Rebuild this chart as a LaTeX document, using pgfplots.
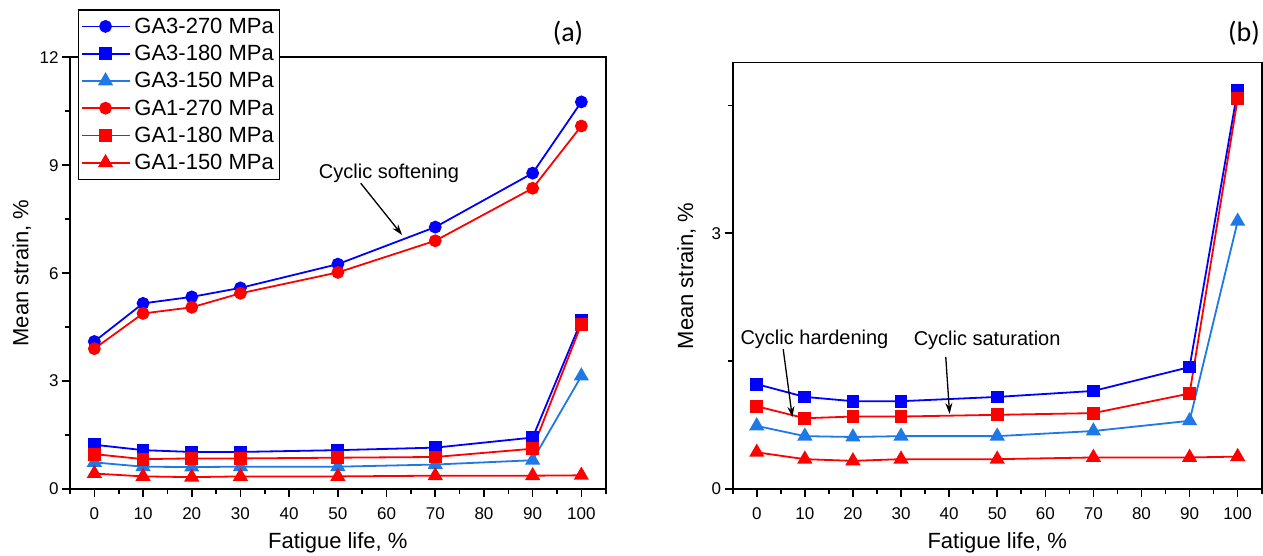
\documentclass[border=0pt]{standalone}
\usepackage{pgfplots}
\pgfplotsset{compat=1.18}
\usepackage{fontspec}
\setmainfont{Liberation Sans}
\newfontfamily\calib{Carlito}
\usetikzlibrary{arrows.meta}
\definecolor{cblue}{RGB}{0,0,255}
\definecolor{clblue}{RGB}{30,120,230}
\definecolor{cred}{RGB}{255,0,0}

\pgfplotstableread{
x   a3h   a1h   a3m   a1m   a3l   a1l
0   4.10  3.90  1.23  0.97  0.74  0.43
10  5.16  4.88  1.08  0.83  0.62  0.35
20  5.34  5.05  1.03  0.85  0.61  0.33
30  5.59  5.44  1.03  0.85  0.62  0.35
50  6.25  6.02  1.08  0.87  0.62  0.35
70  7.28  6.90  1.15  0.89  0.68  0.37
90  8.78  8.36  1.43  1.12  0.80  0.37
100 10.76 10.09 4.68  4.58  3.14  0.38
}\datatab

\pgfplotsset{
  myaxis/.style={
    scale only axis,
    anchor=south west,
    axis line style={line width=1.6pt},
    every tick/.style={line width=1.6pt, black},
    tick align=outside,
    tick pos=left,
    major tick length=8pt,
    minor tick length=5pt,
    xmin=-5, xmax=105,
    xtick={0,10,...,100},
    minor xtick={-5,5,...,105},
    tick label style={font=\fontsize{17}{20}\selectfont},
    xticklabel style={yshift=-7pt},
    label style={font=\fontsize{22}{26}\selectfont},
    /pgf/number format/assume math mode=true,
    xlabel={Fatigue life, \%},
    ylabel={Mean strain, \%},
    clip=false,
  },
  s1/.style={color=cblue, line width=1.8pt, mark=*, mark size=5.5pt},
  s2/.style={color=cblue, line width=1.8pt, mark=square*, mark size=5.5pt},
  s3/.style={color=clblue, line width=1.8pt, mark=triangle*, mark size=7pt},
  s4/.style={color=cred, line width=1.8pt, mark=*, mark size=5.5pt},
  s5/.style={color=cred, line width=1.8pt, mark=square*, mark size=5.5pt},
  s6/.style={color=cred, line width=1.8pt, mark=triangle*, mark size=7pt},
}

\begin{document}
\begin{tikzpicture}
\path[use as bounding box] (0pt,0pt) rectangle (1263pt,555pt);

\begin{axis}[myaxis,
  at={(70pt,66pt)}, width=535.7pt, height=431.7pt,
  ymin=0, ymax=12, ytick={0,3,...,12}, minor ytick={1.5,4.5,...,10.5},
  xlabel style={at={(axis description cs:0.5,-0.125)}, anchor=center},
  ylabel style={at={(axis description cs:-0.09,0.5)}, anchor=center},
  legend style={at={(axis description cs:0.015,1.111)}, anchor=north west,
    draw=black, line width=1.2pt, fill=white,
    font=\fontsize{22}{26}\selectfont, row sep=8.4pt,
    inner xsep=2pt, inner ysep=7pt,
    nodes={inner xsep=4pt, inner ysep=1pt}},
  every legend image post/.style={line width=1.8pt},
  legend cell align=left,
  legend image code/.code={\draw[line width=1.8pt, mark repeat=2,mark phase=2] plot coordinates {(0pt,0pt) (24pt,0pt) (48pt,0pt)};},
]
\addplot[s1] table[x=x,y=a3h] {\datatab};
\addlegendentry{GA3-270 MPa}
\addplot[s2] table[x=x,y=a3m] {\datatab};
\addlegendentry{GA3-180 MPa}
\addplot[s3] table[x=x,y=a3l] {\datatab};
\addlegendentry{GA3-150 MPa}
\addplot[s4] table[x=x,y=a1h] {\datatab};
\addlegendentry{GA1-270 MPa}
\addplot[s5] table[x=x,y=a1m] {\datatab};
\addlegendentry{GA1-180 MPa}
\addplot[s6] table[x=x,y=a1l] {\datatab};
\addlegendentry{GA1-150 MPa}
\node[font=\fontsize{20}{24}\selectfont] at (axis cs:60.5,8.78) {Cyclic softening};
\draw[-{Stealth[length=11pt,width=7pt]}, line width=1.3pt, black] (axis cs:54.7,8.5) -- (axis cs:63.2,7.06);
\end{axis}

\begin{axis}[myaxis,
  at={(732.7pt,66pt)}, width=529pt, height=426.3pt,
  ymin=0, ymax=5, ytick={0,3}, minor ytick={1.5,4.5},
  xlabel style={at={(axis description cs:0.5,-0.127)}, anchor=center},
  ylabel style={at={(axis description cs:-0.087,0.5)}, anchor=center},
]
\addplot[s2] table[x=x,y=a3m] {\datatab};
\addplot[s3] table[x=x,y=a3l] {\datatab};
\addplot[s5] table[x=x,y=a1m] {\datatab};
\addplot[s6] table[x=x,y=a1l] {\datatab};
\node[font=\fontsize{20}{24}\selectfont] at (axis cs:12.0,1.75) {Cyclic hardening};
\node[font=\fontsize{20}{24}\selectfont] at (axis cs:47.9,1.74) {Cyclic saturation};
\draw[-{Stealth[length=11pt,width=7pt]}, line width=1.3pt, black] (axis cs:5.5,1.64) -- (axis cs:7.4,0.84);
\draw[-{Stealth[length=11pt,width=7pt]}, line width=1.3pt, black] (axis cs:39.3,1.55) -- (axis cs:40.1,0.88);
\end{axis}

\node[font=\calib\fontsize{28}{32}\selectfont] at (568pt,522pt) {(a)};
\node[font=\calib\fontsize{28}{32}\selectfont] at (1244pt,522pt) {(b)};
\end{tikzpicture}
\end{document}
